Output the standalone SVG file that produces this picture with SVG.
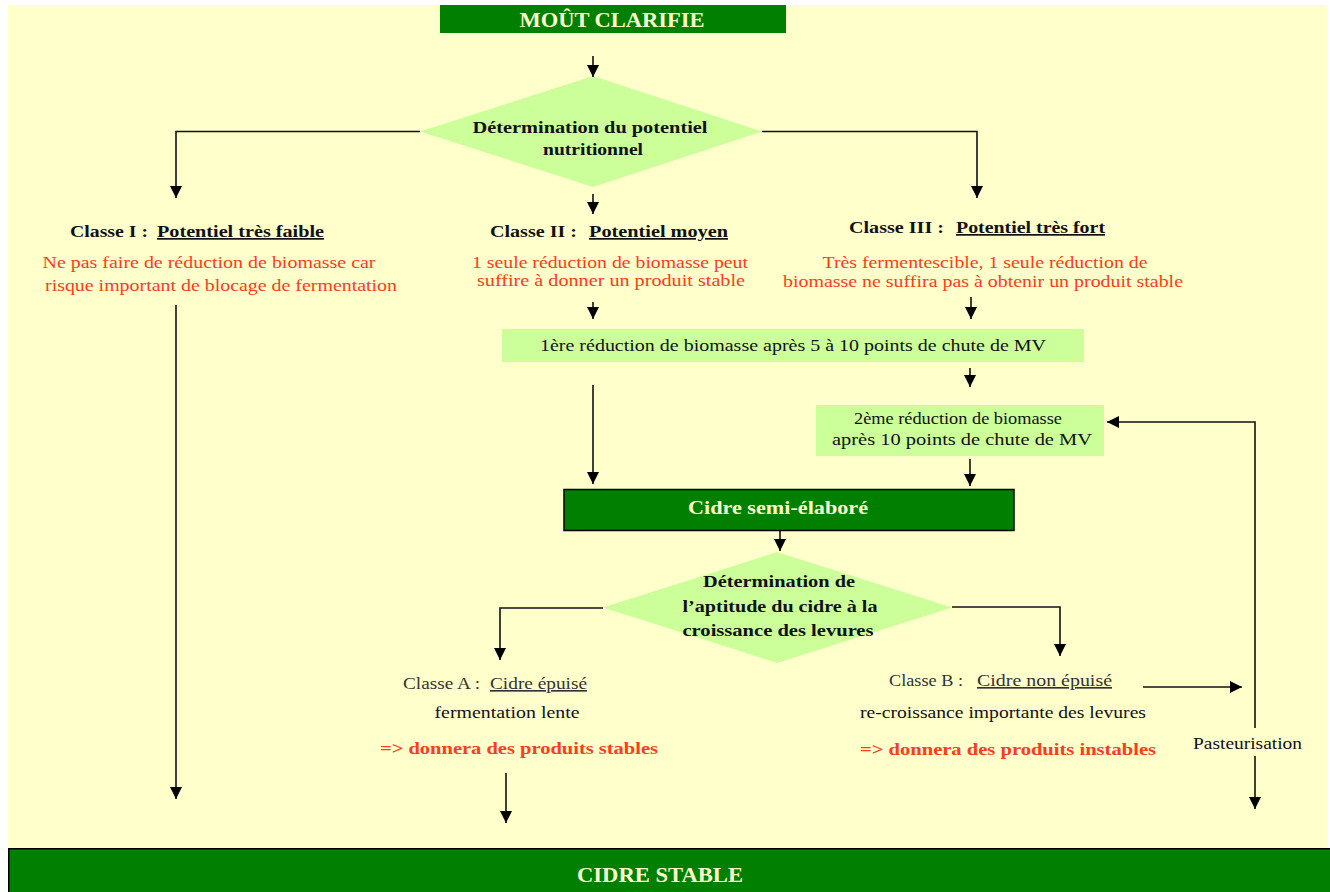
<svg xmlns="http://www.w3.org/2000/svg" width="1330" height="892" viewBox="0 0 1330 892">
<defs>
<style>
text{font-family:"Liberation Serif","Times New Roman",serif;}
.b{font-weight:bold;}
.blk{fill:#111;}
.red{fill:#FF3B1A;}
.cream{fill:#FFFFCC;font-weight:bold;}
.u{text-decoration:underline;}
.gray{fill:#333;}
.conn path,.conn line{stroke:#111;stroke-width:1.6;fill:none;}
</style>
<marker id="ah" markerWidth="12" markerHeight="12" refX="12" refY="6" orient="auto" markerUnits="userSpaceOnUse"><path d="M0,0 L12,6 L0,12 z" fill="#000"/></marker>
</defs>
<rect x="0" y="0" width="1330" height="892" fill="#fff"/>
<rect x="8" y="5" width="1319" height="845" fill="#FFFFCC"/>

<g id="n-mout">
<rect x="440" y="5" width="346" height="28" fill="#007F00"/>
<text x="612" y="27" text-anchor="middle" class="cream" font-size="20" textLength="185" lengthAdjust="spacingAndGlyphs">MOÛT CLARIFIE</text>
</g>

<g id="n-diam1">
<polygon points="593,76 762,131.5 593,187 420,131.5" fill="#CCFF99"/>
<text x="590" y="133" text-anchor="middle" class="b blk" font-size="17" textLength="235" lengthAdjust="spacingAndGlyphs">Détermination du potentiel</text>
<text x="593" y="155" text-anchor="middle" class="b blk" font-size="17" textLength="100" lengthAdjust="spacingAndGlyphs">nutritionnel</text>
</g>

<g id="n-classe1">
<text x="70" y="237" class="b blk" font-size="17" textLength="78" lengthAdjust="spacingAndGlyphs">Classe I :</text>
<text x="157" y="237" class="b blk u" font-size="17" textLength="167" lengthAdjust="spacingAndGlyphs">Potentiel très faible</text>
<text x="209" y="268" text-anchor="middle" class="red" font-size="17" textLength="333" lengthAdjust="spacingAndGlyphs">Ne pas faire de réduction de biomasse car</text>
<text x="221" y="291" text-anchor="middle" class="red" font-size="17" textLength="352" lengthAdjust="spacingAndGlyphs">risque important de blocage de fermentation</text>
</g>

<g id="n-classe2">
<text x="490" y="237" class="b blk" font-size="17" textLength="87" lengthAdjust="spacingAndGlyphs">Classe II :</text>
<text x="589" y="237" class="b blk u" font-size="17" textLength="139" lengthAdjust="spacingAndGlyphs">Potentiel moyen</text>
<text x="610" y="268" text-anchor="middle" class="red" font-size="17" textLength="276" lengthAdjust="spacingAndGlyphs">1 seule réduction de biomasse peut</text>
<text x="611" y="286" text-anchor="middle" class="red" font-size="17" textLength="268" lengthAdjust="spacingAndGlyphs">suffire à donner un produit stable</text>
</g>

<g id="n-classe3">
<text x="849" y="233" class="b blk" font-size="17" textLength="95" lengthAdjust="spacingAndGlyphs">Classe III :</text>
<text x="956" y="233" class="b blk u" font-size="17" textLength="149" lengthAdjust="spacingAndGlyphs">Potentiel très fort</text>
<text x="985" y="268" text-anchor="middle" class="red" font-size="17" textLength="325" lengthAdjust="spacingAndGlyphs">Très fermentescible, 1 seule réduction de</text>
<text x="983" y="287" text-anchor="middle" class="red" font-size="17" textLength="400" lengthAdjust="spacingAndGlyphs">biomasse ne suffira pas à obtenir un produit stable</text>
</g>

<g id="n-red1">
<rect x="502" y="329" width="582" height="33" fill="#CCFF99"/>
<text x="793" y="351" text-anchor="middle" class="blk" font-size="16.5" textLength="506" lengthAdjust="spacingAndGlyphs">1ère réduction de biomasse après 5 à 10 points de chute de MV</text>
</g>

<g id="n-red2">
<rect x="816" y="405" width="288" height="51" fill="#CCFF99"/>
<text x="958" y="424" text-anchor="middle" class="blk" font-size="16.5" textLength="208" lengthAdjust="spacingAndGlyphs">2ème réduction de biomasse</text>
<text x="962" y="445" text-anchor="middle" class="blk" font-size="16.5" textLength="260" lengthAdjust="spacingAndGlyphs">après 10  points de chute de MV</text>
</g>

<g id="n-semi">
<rect x="564" y="489.5" width="450" height="41" fill="#007F00" stroke="#000" stroke-width="1.5"/>
<text x="778" y="514" text-anchor="middle" class="cream" font-size="18" textLength="180" lengthAdjust="spacingAndGlyphs">Cidre semi-élaboré</text>
</g>

<g id="n-diam2">
<polygon points="777,552 952,607.5 777,663 603,607.5" fill="#CCFF99"/>
<text x="779" y="587" text-anchor="middle" class="b blk" font-size="17" textLength="152" lengthAdjust="spacingAndGlyphs">Détermination de</text>
<text x="780" y="612" text-anchor="middle" class="b blk" font-size="17" textLength="195" lengthAdjust="spacingAndGlyphs">l’aptitude du cidre à la</text>
<text x="778" y="636" text-anchor="middle" class="b blk" font-size="17" textLength="191" lengthAdjust="spacingAndGlyphs">croissance des levures</text>
</g>

<g id="n-classeA">
<text x="403" y="689" class="gray" font-size="16.5" textLength="77" lengthAdjust="spacingAndGlyphs">Classe A :</text>
<text x="490" y="689" class="gray u" font-size="16.5" textLength="97" lengthAdjust="spacingAndGlyphs">Cidre épuisé</text>
<text x="507" y="718" text-anchor="middle" class="blk" font-size="16.5" textLength="145" lengthAdjust="spacingAndGlyphs">fermentation lente</text>
<text x="380" y="754" class="b red" font-size="17" textLength="278" lengthAdjust="spacingAndGlyphs">=&gt; donnera des produits stables</text>
</g>

<g id="n-classeB">
<text x="889" y="686" class="gray" font-size="16.5" textLength="74" lengthAdjust="spacingAndGlyphs">Classe B :</text>
<text x="977" y="686" class="gray u" font-size="16.5" textLength="135" lengthAdjust="spacingAndGlyphs">Cidre non épuisé</text>
<text x="860" y="718" class="blk" font-size="16.5" textLength="286" lengthAdjust="spacingAndGlyphs">re-croissance importante des levures</text>
<text x="860" y="755" class="b red" font-size="17" textLength="296" lengthAdjust="spacingAndGlyphs">=&gt; donnera des produits instables</text>
</g>

<g id="n-past">
<text x="1193" y="749" class="blk" font-size="16.5" textLength="109" lengthAdjust="spacingAndGlyphs">Pasteurisation</text>
</g>

<g id="n-stable">
<rect x="8.75" y="848.75" width="1325" height="45" fill="#007F00" stroke="#000" stroke-width="1.5"/>
<text x="660" y="882" text-anchor="middle" class="cream" font-size="21" textLength="166" lengthAdjust="spacingAndGlyphs">CIDRE STABLE</text>
</g>

<g class="conn" id="connectors">
<line x1="593" y1="56" x2="593" y2="77" marker-end="url(#ah)"/>
<path d="M420,131.5 H176 V198" marker-end="url(#ah)"/>
<path d="M762,131.5 H977 V198" marker-end="url(#ah)"/>
<line x1="593" y1="194" x2="593" y2="214" marker-end="url(#ah)"/>
<line x1="176" y1="305" x2="176" y2="799" marker-end="url(#ah)"/>
<line x1="593" y1="302" x2="593" y2="319" marker-end="url(#ah)"/>
<line x1="971" y1="297" x2="971" y2="319" marker-end="url(#ah)"/>
<line x1="970" y1="368" x2="970" y2="387" marker-end="url(#ah)"/>
<line x1="593" y1="385" x2="593" y2="484" marker-end="url(#ah)"/>
<line x1="970" y1="459" x2="970" y2="486" marker-end="url(#ah)"/>
<line x1="780" y1="531" x2="780" y2="551" marker-end="url(#ah)"/>
<path d="M603,608 H500 V660" marker-end="url(#ah)"/>
<path d="M952,607 H1060 V656" marker-end="url(#ah)"/>
<line x1="506" y1="773" x2="506" y2="823" marker-end="url(#ah)"/>
<line x1="1143" y1="687" x2="1242" y2="687" marker-end="url(#ah)"/>
<path d="M1255,728 V422 H1107" marker-end="url(#ah)"/>
<line x1="1255" y1="756" x2="1255" y2="809" marker-end="url(#ah)"/>
</g>
</svg>
